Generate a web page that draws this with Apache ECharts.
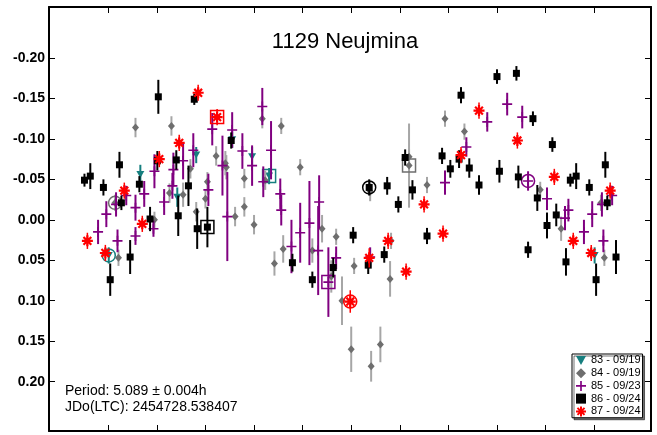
<!DOCTYPE html>
<html>
<head>
<meta charset="utf-8">
<script src="https://cdn.jsdelivr.net/npm/echarts@6/dist/echarts.min.js"></script>
<style>
  html, body { margin: 0; padding: 0; background: #fff; }
  #chart { width: 657px; height: 435px; }
</style>
</head>
<body>
<div id="chart"></div>
<script>
// Lightcurve of 1129 Neujmina phased to the rotation period (magnitude axis inverted)
const titleText = '1129 Neujmina';
const periodText = 'Period: 5.089 \u00B1 0.004h';
const epochText = 'JDo(LTC): 2454728.538407';

const sessionNames = ['83 - 09/19', '84 - 09/19', '85 - 09/23', '86 - 09/24', '87 - 09/24'];

// Session 83
const phase83 = [0.001, 0.066, 0.142, 0.181, 0.255, 0.296, 0.331];
const mag83 = [0.044, -0.056, -0.028, -0.080, -0.099, -0.078, -0.054];
const err83 = [0.010, 0.012, 0.012, 0.010, 0.010, 0.012, 0.010];

// Session 84
const phase84 = [0.014, 0.021, 0.056, 0.095, 0.126, 0.130, 0.154, 0.169, 0.181, 0.200, 0.204, 0.222, 0.241, 0.243, 0.261, 0.280, 0.280, 0.300, 0.317, 0.323, 0.342, 0.356, 0.360, 0.395, 0.420, 0.440, 0.459, 0.469, 0.481, 0.500, 0.506, 0.539, 0.541, 0.560, 0.580, 0.582, 0.619, 0.619, 0.656, 0.693, 0.733, 0.889, 0.932];
const mag84 = [-0.021, 0.047, -0.114, 0.000, -0.033, -0.116, -0.031, -0.063, -0.010, -0.026, -0.047, -0.079, -0.070, -0.065, -0.004, -0.051, -0.016, 0.006, -0.125, -0.049, 0.054, -0.116, 0.036, -0.065, 0.038, 0.011, 0.070, 0.021, 0.100, 0.160, 0.057, -0.035, 0.181, 0.154, 0.073, 0.026, -0.078, -0.067, -0.043, -0.125, -0.109, -0.037, 0.011];
const err84 = [0.010, 0.010, 0.012, 0.010, 0.012, 0.012, 0.015, 0.012, 0.012, 0.012, 0.012, 0.012, 0.015, 0.015, 0.012, 0.012, 0.012, 0.012, 0.012, 0.012, 0.015, 0.010, 0.017, 0.010, 0.015, 0.017, 0.020, 0.010, 0.030, 0.028, 0.010, 0.012, 0.019, 0.022, 0.022, 0.010, 0.010, 0.052, 0.010, 0.010, 0.010, 0.010, 0.015];

// Session 85
const phase85 = [0.016, 0.019, 0.037, 0.056, 0.056, 0.074, 0.093, 0.095, 0.115, 0.132, 0.134, 0.154, 0.175, 0.206, 0.214, 0.235, 0.245, 0.255, 0.276, 0.296, 0.317, 0.319, 0.335, 0.354, 0.356, 0.377, 0.395, 0.414, 0.432, 0.434, 0.453, 0.469, 0.539, 0.693, 0.737, 0.780, 0.821, 0.852, 0.864, 0.903, 0.940, 0.947, 0.979, 0.996];
const mag85 = [-0.019, 0.026, -0.030, -0.015, 0.020, -0.032, 0.011, -0.060, -0.022, -0.042, -0.062, -0.073, -0.086, -0.037, -0.112, -0.067, -0.004, -0.111, -0.085, -0.067, -0.140, -0.047, -0.086, -0.032, -0.012, 0.033, 0.016, 0.004, 0.038, -0.022, 0.077, 0.047, 0.046, -0.046, -0.090, -0.121, -0.143, -0.127, -0.048, -0.026, -0.002, -0.012, 0.015, -0.007];
const err85 = [0.015, 0.014, 0.012, 0.016, 0.011, 0.016, 0.010, 0.021, 0.016, 0.016, 0.021, 0.023, 0.021, 0.020, 0.020, 0.037, 0.055, 0.022, 0.022, 0.025, 0.023, 0.019, 0.036, 0.019, 0.019, 0.033, 0.037, 0.052, 0.055, 0.033, 0.043, 0.014, 0.012, 0.015, 0.012, 0.012, 0.014, 0.014, 0.012, 0.014, 0.015, 0.014, 0.015, 0.016];

// Session 86
const phase86 = [0.004, 0.023, 0.027, 0.045, 0.064, 0.086, 0.101, 0.103, 0.140, 0.144, 0.165, 0.177, 0.183, 0.204, 0.253, 0.379, 0.420, 0.463, 0.504, 0.535, 0.537, 0.568, 0.574, 0.597, 0.611, 0.626, 0.656, 0.687, 0.704, 0.722, 0.726, 0.743, 0.763, 0.800, 0.805, 0.840, 0.844, 0.864, 0.874, 0.883, 0.903, 0.914, 0.922, 0.942, 0.951, 0.963, 0.990];
const mag86 = [0.074, -0.068, -0.021, 0.046, -0.044, -0.001, -0.073, -0.152, -0.074, -0.005, -0.042, -0.149, 0.011, 0.009, -0.098, 0.053, 0.074, 0.059, 0.019, 0.056, -0.040, 0.043, -0.042, -0.019, -0.077, -0.037, 0.020, -0.079, -0.063, -0.075, -0.154, -0.064, -0.043, -0.177, -0.060, -0.181, -0.053, 0.037, -0.125, -0.027, 0.007, -0.093, -0.006, 0.052, -0.049, -0.054, -0.040];
const err86 = [0.020, 0.016, 0.009, 0.021, 0.010, 0.015, 0.012, 0.021, 0.012, 0.025, 0.025, 0.007, 0.025, 0.025, 0.010, 0.011, 0.010, 0.012, 0.010, 0.011, 0.010, 0.010, 0.011, 0.010, 0.010, 0.012, 0.010, 0.010, 0.011, 0.011, 0.010, 0.012, 0.012, 0.009, 0.014, 0.009, 0.014, 0.010, 0.009, 0.016, 0.016, 0.009, 0.014, 0.017, 0.008, 0.016, 0.010];

// Session 87
const phase87 = [0.033, 0.070, 0.105, 0.146, 0.185, 0.224, 0.498, 0.537, 0.576, 0.613, 0.650, 0.689, 0.726, 0.763, 0.842, 0.918, 0.957, 0.994];
const mag87 = [-0.036, 0.005, -0.075, -0.095, -0.157, -0.127, 0.101, 0.047, 0.026, 0.064, -0.019, 0.017, -0.080, -0.135, -0.098, -0.053, 0.026, 0.041];
const err87 = [0.010, 0.010, 0.010, 0.010, 0.010, 0.010, 0.014, 0.012, 0.010, 0.010, 0.010, 0.010, 0.010, 0.010, 0.010, 0.010, 0.010, 0.010];

// Index of each session's first (circled) and last (boxed) observation
const firstPoint = [0, 0, 38, 20, 6];
const lastPoint = [6, 37, 30, 13, 5];

const xTicks = [0, 0.1, 0.2, 0.3, 0.4, 0.5, 0.6, 0.7, 0.8, 0.9, 1.0];
const yTicks = [-0.20, -0.15, -0.10, -0.05, 0.00, 0.05, 0.10, 0.15, 0.20];

// Phase range shown and how far the curve is repeated past 0 and 1
const X_MIN = -0.122, X_MAX = 1.117;
const Y_MIN = -0.263, Y_MAX = 0.261;
const WRAP = 0.05;

const FONT = '"Liberation Sans", Arial, sans-serif';

// Marker shapes
const SYM_TRI = 'path://M0,0L10,0L5,9Z';
const SYM_PLUS = 'path://M0,5H12V7H0Z M5,0H7V12H5Z';
const SYM_STAR = 'path://M0,8L20,8L20,12L0,12Z M8,0L12,0L12,20L8,20Z ' +
  'M1.51,4.34L4.34,1.51L18.49,15.66L15.66,18.49Z M15.66,1.51L18.49,4.34L4.34,18.49L1.51,15.66Z';

const sessions = [
  { phase: phase83, mag: mag83, err: err83, color: '#167f7f', bar: '#167f7f', barWidth: 2, symbol: SYM_TRI, size: [8, 7] },
  { phase: phase84, mag: mag84, err: err84, color: '#6e6e6e', bar: '#a6a6a6', barWidth: 2, symbol: 'diamond', size: [7, 8] },
  { phase: phase85, mag: mag85, err: err85, color: '#800080', bar: '#800080', barWidth: 2, symbol: SYM_PLUS, size: 10 },
  { phase: phase86, mag: mag86, err: err86, color: '#000000', bar: '#000000', barWidth: 2, symbol: 'rect', size: 7 },
  { phase: phase87, mag: mag87, err: err87, color: '#ff0000', bar: '#ff0000', barWidth: 1.5, symbol: SYM_STAR, size: 11 }
];

// Repeat observations near phase 0/1 on the other side of the cycle
function wrapped(s) {
  const out = [];
  s.phase.forEach((p, i) => {
    out.push([p, s.mag[i], s.err[i]]);
    if (p < WRAP) out.push([p + 1, s.mag[i], s.err[i]]);
    if (p > 1 - WRAP) out.push([p - 1, s.mag[i], s.err[i]]);
  });
  return out;
}

const series = [];
sessions.forEach((s, k) => {
  const pts = wrapped(s);
  series.push({
    type: 'custom',
    name: 'err-' + sessionNames[k],
    z: 10 + k * 3,
    clip: true,
    data: pts,
    encode: { x: 0, y: 1 },
    renderItem: (params, api) => {
      const a = api.coord([api.value(0), api.value(1) - api.value(2)]);
      const b = api.coord([api.value(0), api.value(1) + api.value(2)]);
      return {
        type: 'line',
        shape: { x1: a[0], y1: a[1], x2: b[0], y2: b[1] },
        style: { stroke: s.bar, lineWidth: s.barWidth }
      };
    }
  });
  series.push({
    type: 'scatter',
    name: sessionNames[k],
    z: 11 + k * 3,
    symbol: s.symbol,
    symbolSize: s.size,
    itemStyle: { color: s.color, opacity: 1 },
    data: pts.map(d => [d[0], d[1]]),
    silent: true
  });
  const f = firstPoint[k], l = lastPoint[k];
  series.push({
    type: 'custom',
    name: 'ring-' + sessionNames[k],
    z: 12 + k * 3,
    data: [[s.phase[f], s.mag[f], 0], [s.phase[l], s.mag[l], 1]],
    encode: { x: 0, y: 1 },
    renderItem: (params, api) => {
      const c = api.coord([api.value(0), api.value(1)]);
      const r = 6.5;
      const style = { fill: null, stroke: s.color, lineWidth: 1.5 };
      if (api.value(2) === 0) {
        return { type: 'circle', shape: { cx: c[0], cy: c[1], r: r }, style: style };
      }
      return { type: 'rect', shape: { x: c[0] - r, y: c[1] - r, width: 2 * r, height: 2 * r }, style: style };
    }
  });
});

const axisLine = { show: true, onZero: false, lineStyle: { color: '#000', width: 2 } };

function xAxisAt(position) {
  return {
    type: 'value', position: position, min: X_MIN, max: X_MAX,
    axisLine: axisLine,
    axisTick: { show: true, inside: true, length: 6, customValues: xTicks, lineStyle: { color: '#000', width: 1 } },
    axisLabel: { show: false },
    splitLine: { show: false }
  };
}

function yAxisAt(position, labels) {
  return {
    type: 'value', position: position, inverse: true, min: Y_MIN, max: Y_MAX,
    axisLine: axisLine,
    axisTick: { show: true, inside: true, length: 6, customValues: yTicks, lineStyle: { color: '#000', width: 1 } },
    axisLabel: labels ? {
      show: true, customValues: yTicks, margin: 4,
      formatter: v => v.toFixed(2),
      color: '#000', fontSize: 14, fontWeight: 'bold', fontFamily: FONT
    } : { show: false },
    splitLine: { show: false }
  };
}

const chart = echarts.init(document.getElementById('chart'), null, { renderer: 'canvas' });
chart.setOption({
  animation: false,
  backgroundColor: '#ffffff',
  grid: { left: 49, right: 6, top: 7, bottom: 4 },
  xAxis: [xAxisAt('bottom'), xAxisAt('top')],
  yAxis: [yAxisAt('left', true), yAxisAt('right', false)],
  legend: {
    show: true,
    orient: 'vertical',
    left: 572, top: 354,
    padding: [0, 2, 0, 4],
    itemWidth: 10, itemHeight: 10, itemGap: 0,
    backgroundColor: '#ffffff',
    borderColor: '#000', borderWidth: 1,
    shadowColor: 'rgba(0,0,0,0.55)', shadowOffsetX: 2, shadowOffsetY: 2, shadowBlur: 0,
    textStyle: { color: '#000', fontSize: 11, fontFamily: FONT, lineHeight: 12.75 },
    selectedMode: false,
    data: sessionNames.map((n, k) => ({ name: n, icon: sessions[k].symbol }))
  },
  graphic: [
    { type: 'text', x: 345, y: 41.5, style: { text: titleText, font: '22px ' + FONT, fill: '#000', textAlign: 'center', textVerticalAlign: 'middle' } },
    { type: 'text', x: 65, y: 391, style: { text: periodText, font: '14px ' + FONT, fill: '#000', textAlign: 'left', textVerticalAlign: 'middle' } },
    { type: 'text', x: 65, y: 407.5, style: { text: epochText, font: '14px ' + FONT, fill: '#000', textAlign: 'left', textVerticalAlign: 'middle' } }
  ],
  series: series
});
</script>
</body>
</html>
